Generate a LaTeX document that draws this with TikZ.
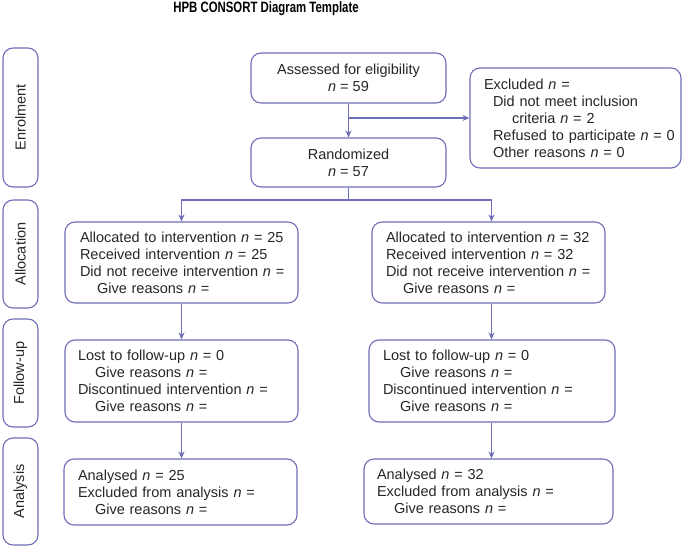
\documentclass[tikz,border=0pt]{standalone}
\usepackage{fontspec}
\setmainfont{Liberation Sans}
\usetikzlibrary{arrows.meta,calc}
\definecolor{bc}{RGB}{110,110,182}
\newcommand{\nn}{\textit{n}}
\newcommand{\tline}[2][0bp]{\mbox{\hspace*{#1}#2}}
\tikzset{
  box/.style={draw=bc, line width=1.1bp, rounded corners=10bp, inner ysep=0pt,
    font=\fontsize{14.5bp}{17bp}\selectfont, text=black!85},
  lbox/.style={box, align=left, inner xsep=#1},
  cbox/.style={box, align=center},
  side/.style={box, rotate=90},
  arr/.style={draw=bc, line width=1.1bp, -{Stealth[length=7bp,width=6bp]}},
  lnk/.style={draw=bc, line width=1.1bp}
}
\begin{document}
\begin{tikzpicture}[x=1bp,y=-1bp]
\useasboundingbox (0,0) rectangle (682,547);
% title
\node (title) at (266,8.5) {\fontsize{15bp}{17bp}\selectfont\bfseries\scalebox{0.76}[1]{HPB CONSORT Diagram Template}};
% side labels
\node[side, minimum width=139bp, minimum height=35bp] (senr) at (20.5,117.5) {Enrolment};
\node[side, minimum width=108bp, minimum height=35bp] (sall) at (20.5,254) {Allocation};
\node[side, minimum width=108bp, minimum height=35bp] (sfol) at (20.5,373) {Follow-up};
\node[side, minimum width=107bp, minimum height=35bp] (sana) at (20.5,491.5) {Analysis};
% enrolment
\node[cbox, minimum width=195bp, minimum height=50bp] (assess) at (348.5,78) {Assessed for eligibility\\\nn{} = 59};
\node[lbox=14bp, text width=183bp, minimum height=100bp] (excl) at (575.5,118)
  {\tline{Excluded \nn{} =}\\
   \tline[9bp]{Did not meet inclusion}\\
   \tline[28bp]{criteria \nn{} = 2}\\
   \tline[9bp]{Refused to participate \nn{} = 0}\\
   \tline[9bp]{Other reasons \nn{} = 0}};
\node[cbox, minimum width=195bp, minimum height=49bp] (rand) at (348.5,162.5) {Randomized\\\nn{} = 57};
% allocation
\node[lbox=15bp, text width=203bp, minimum height=81bp] (allocL) at (181.5,262.5)
  {\tline{Allocated to intervention \nn{} = 25}\\
   \tline{Received intervention \nn{} = 25}\\
   \tline{Did not receive intervention \nn{} =}\\
   \tline[17bp]{Give reasons \nn{} =}};
\node[lbox=14bp, text width=205bp, minimum height=81bp] (allocR) at (488.5,262.5)
  {\tline{Allocated to intervention \nn{} = 32}\\
   \tline{Received intervention \nn{} = 32}\\
   \tline{Did not receive intervention \nn{} =}\\
   \tline[17bp]{Give reasons \nn{} =}};
% follow-up
\node[lbox=13bp, text width=207bp, minimum height=82bp] (folL) at (181.5,381)
  {\tline{Lost to follow-up \nn{} = 0}\\
   \tline[17bp]{Give reasons \nn{} =}\\
   \tline{Discontinued intervention \nn{} =}\\
   \tline[17bp]{Give reasons \nn{} =}};
\node[lbox=14bp, text width=218bp, minimum height=82bp] (folR) at (492,381)
  {\tline{Lost to follow-up \nn{} = 0}\\
   \tline[17bp]{Give reasons \nn{} =}\\
   \tline{Discontinued intervention \nn{} =}\\
   \tline[17bp]{Give reasons \nn{} =}};
% analysis
\node[lbox=14bp, text width=205bp, minimum height=66bp] (anaL) at (180.5,492)
  {\tline{Analysed \nn{} = 25}\\
   \tline{Excluded from analysis \nn{} =}\\
   \tline[17bp]{Give reasons \nn{} =}};
\node[lbox=13bp, text width=223bp, minimum height=65bp] (anaR) at (488.5,491.5)
  {\tline{Analysed \nn{} = 32}\\
   \tline{Excluded from analysis \nn{} =}\\
   \tline[17bp]{Give reasons \nn{} =}};
% connectors
\coordinate (split) at (348.5,200);
\coordinate (rc) at (491.5,200);
\coordinate (lc) at (181.5,200);
\draw[arr] (assess.south) -- (rand.north);
\draw[arr] (assess.south |- excl.west) -- (excl.west);
\draw[lnk] (rand.south) -- (split);
\draw[arr] (split) -| (allocL.north -| lc);
\draw[arr] (split) -| (allocR.north -| rc);
\draw[arr] (allocL.south -| lc) -- (folL.north -| lc);
\draw[arr] (allocR.south -| rc) -- (folR.north -| rc);
\draw[arr] (folL.south -| lc) -- (anaL.north -| lc);
\draw[arr] (folR.south -| rc) -- (anaR.north -| rc);
\end{tikzpicture}
\end{document}
